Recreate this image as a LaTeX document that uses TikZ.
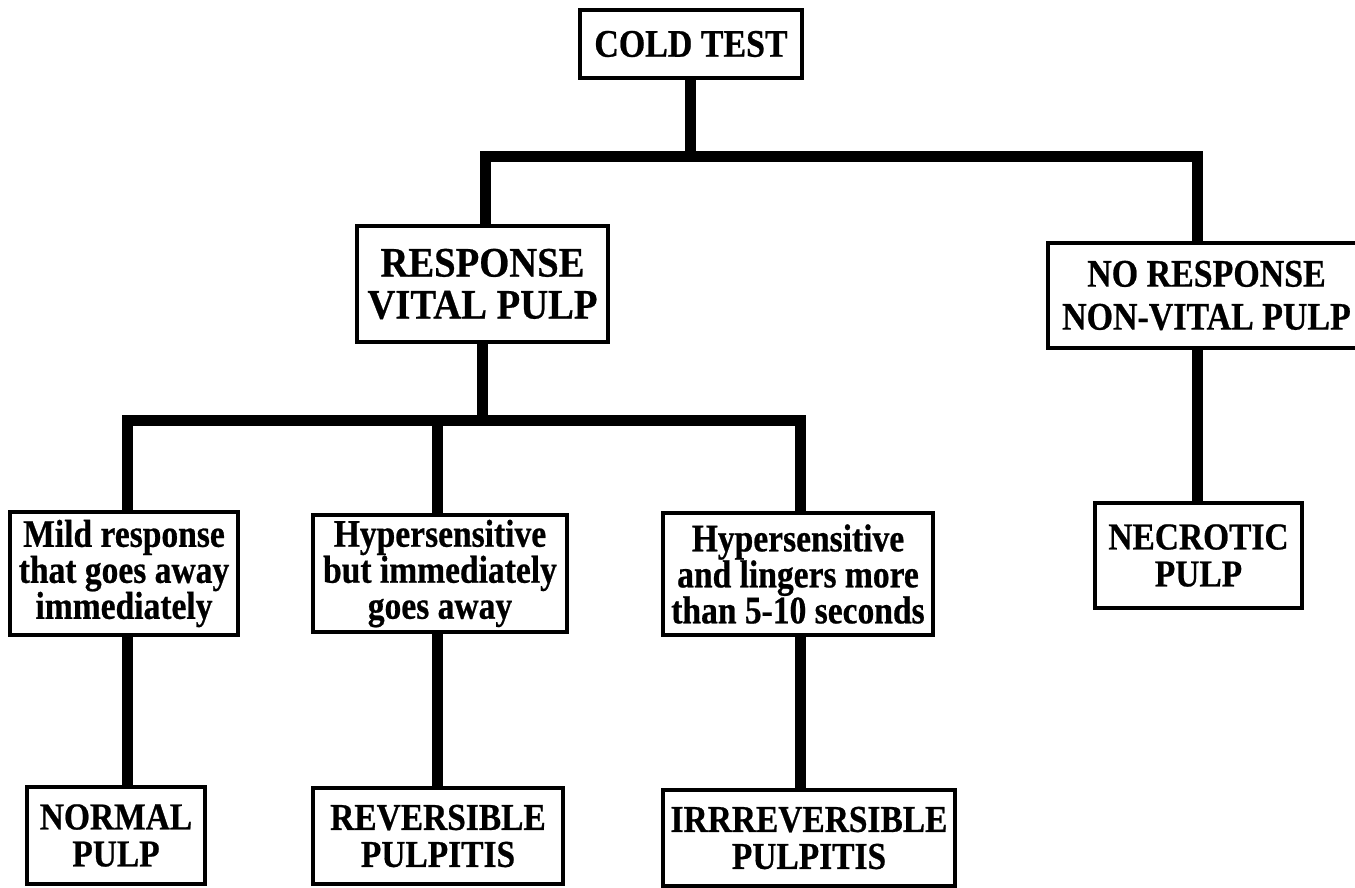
\documentclass[tikz,border=0pt]{standalone}
\usepackage{fontspec}
\setmainfont{Liberation Serif}
\newfontfamily\capsA{Liberation Serif}[FakeStretch=0.87, FakeBold=0.6]
\newfontfamily\capsB{Liberation Serif}[FakeStretch=0.92, FakeBold=0.6]
\newfontfamily\capsC{Liberation Serif}[FakeStretch=0.88, FakeBold=0.6]
\newfontfamily\lowfont{Liberation Serif}[FakeStretch=0.86, FakeBold=0.6]
\begin{document}
\begin{tikzpicture}[x=1pt,y=-1pt,
  box/.style={draw=black, line width=3.5pt, fill=white, inner sep=0pt, align=center},
  topbox/.style={box, font=\capsA\bfseries\fontsize{39}{43}\selectfont},
  respbox/.style={box, font=\capsB\bfseries\fontsize{42}{42}\selectfont},
  capsbox/.style={box, font=\capsC\bfseries\fontsize{38}{37}\selectfont},
  lowbox/.style={box, font=\lowfont\bfseries\fontsize{39}{36}\selectfont},
  conn/.style={draw=black, line width=11pt, line join=miter}]
\useasboundingbox (0,0) rectangle (1355,888);
\fill[white] (0,0) rectangle (1355,888);
% junction coordinates
\coordinate (c1) at (690,157);
\coordinate (tl) at (485,157);
\coordinate (tr) at (1197,157);
\coordinate (r1) at (482,420);
\coordinate (ml) at (127,420);
\coordinate (mm) at (437,420);
\coordinate (mr) at (800,420);
% boxes
\node[topbox, minimum width=222pt, minimum height=68pt] (cold) at (691,44) {COLD TEST};
\node[respbox, minimum width=251pt, minimum height=116pt] (resp) at (482.5,284) {RESPONSE\\VITAL PULP};
\node[topbox, minimum width=317pt, minimum height=105pt] (nores) at (1206.5,295.5) {NO RESPONSE\\NON-VITAL PULP};
\node[capsbox, minimum width=207pt, minimum height=105pt] (necro) at (1198.5,555.5) {NECROTIC\\PULP};
\node[lowbox, minimum width=228pt, minimum height=123pt] (mild) at (124,573.5) {Mild response\\that goes away\\immediately};
\node[lowbox, minimum width=254pt, minimum height=117pt] (hyp1) at (440,573.5) {Hypersensitive\\but immediately\\goes away};
\node[lowbox, minimum width=270pt, minimum height=122pt] (hyp2) at (798,574) {Hypersensitive\\and lingers more\\than 5-10 seconds};
\node[capsbox, minimum width=178pt, minimum height=97pt] (normal) at (116,835.5) {NORMAL\\PULP};
\node[capsbox, minimum width=250pt, minimum height=96pt] (rev) at (438,836) {REVERSIBLE\\PULPITIS};
\node[capsbox, minimum width=292pt, minimum height=96pt] (irr) at (809,838) {IRRREVERSIBLE\\PULPITIS};
% connectors
\draw[conn] (cold.south -| c1) -- (c1);
\draw[conn] (resp.north -| tl) -- (tl) -- (tr) -- (nores.north -| tr);
\draw[conn] (resp.south -| r1) -- (r1);
\draw[conn] (mild.north -| ml) -- (ml) -- (mr) -- (hyp2.north -| mr);
\draw[conn] (hyp1.north -| mm) -- (mm);
\draw[conn] (nores.south -| tr) -- (necro.north -| tr);
\draw[conn] (mild.south -| ml) -- (normal.north -| ml);
\draw[conn] (hyp1.south -| mm) -- (rev.north -| mm);
\draw[conn] (hyp2.south -| mr) -- (irr.north -| mr);
\end{tikzpicture}
\end{document}
